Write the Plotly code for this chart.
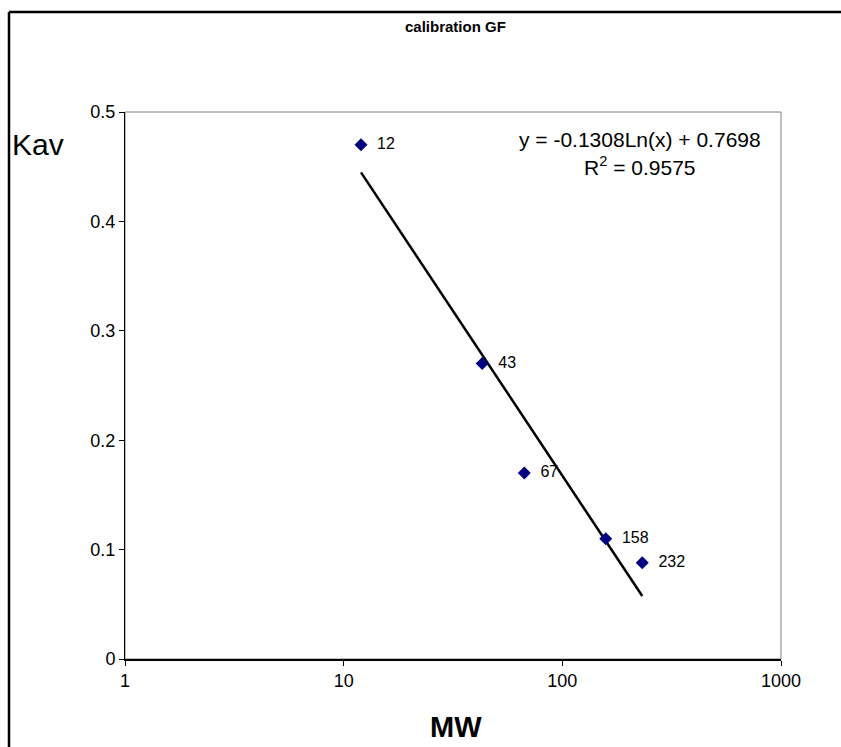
import numpy as np
import plotly.graph_objects as go

# Data
mw = [12, 43, 67, 158, 232]
kav = [0.47, 0.27, 0.17, 0.11, 0.088]
point_labels = ["12", "43", "67", "158", "232"]
x_ticks = [1, 10, 100, 1000]
y_ticks = [0, 0.1, 0.2, 0.3, 0.4, 0.5]
equation_text = "y = -0.1308Ln(x) + 0.7698"
r2_text = "R<sup>2</sup> = 0.9575"

# Logarithmic trendline from least squares fit
slope, intercept = np.polyfit(np.log(mw), kav, 1)
trend_x = np.geomspace(min(mw), max(mw), 60)
trend_y = slope * np.log(trend_x) + intercept

W, H = 841, 747
L, R, T, B = 125, 60, 112, 88
pw, ph = W - L - R, H - T - B
FONT = "Arial, Liberation Sans, sans-serif"

def px(xp):
    return (xp - L) / pw

def py(yp):
    return (H - B - yp) / ph

fig = go.Figure()
fig.add_trace(go.Scatter(x=trend_x, y=trend_y, mode="lines",
                         line=dict(color="black", width=2.5),
                         hoverinfo="skip", showlegend=False))
fig.add_trace(go.Scatter(x=mw, y=kav, mode="markers+text",
                         text=["\u00a0\u00a0" + t for t in point_labels],
                         textposition="middle right",
                         textfont=dict(family=FONT, size=16, color="black"),
                         marker=dict(symbol="diamond", size=10, color="#000080"),
                         showlegend=False))

shapes = [
    dict(type="rect", xref="paper", yref="paper", x0=0, y0=0, x1=1, y1=1,
         line=dict(color="#808080", width=1), layer="below"),
    dict(type="line", xref="paper", yref="paper", x0=px(9), y0=py(12), x1=px(845), y1=py(12),
         line=dict(color="black", width=2.5)),
    dict(type="line", xref="paper", yref="paper", x0=px(9), y0=py(12), x1=px(9), y1=py(750),
         line=dict(color="black", width=2.5)),
]

def ann(text, xp, yp, size):
    return dict(text=text, x=px(xp), y=py(yp), xref="paper", yref="paper",
                xanchor="center", yanchor="middle", showarrow=False,
                font=dict(family=FONT, size=size, color="black"))

annotations = [
    ann(equation_text, 640, 139, 21),
    ann(r2_text, 640, 166, 21),
    ann("Kav", 38, 144, 30),
    ann("<b>MW</b>", 456, 727, 29),
    ann("<b>calibration GF</b>", 456, 26, 15),
]

fig.update_layout(
    width=W, height=H,
    margin=dict(l=L, r=R, t=T, b=B),
    paper_bgcolor="white", plot_bgcolor="white",
    font=dict(family=FONT, size=18, color="black"),
    shapes=shapes, annotations=annotations,
    xaxis=dict(type="log", range=[0, 3], tickvals=x_ticks, ticktext=[str(v) for v in x_ticks],
               showgrid=False, zeroline=False, showline=True, linecolor="black", linewidth=1.5,
               ticks="outside", ticklen=5, tickcolor="black", tickfont=dict(size=18)),
    yaxis=dict(range=[0, 0.5], tickvals=y_ticks, ticktext=[f"{v:g}" for v in y_ticks],
               showgrid=False, zeroline=False, showline=True, linecolor="black", linewidth=1,
               ticks="outside", ticklen=5, tickcolor="black", tickfont=dict(size=18)),
)

fig.write_html("out.html", config={"displayModeBar": False},
               post_script="document.body.style.margin='0';document.body.style.overflow='hidden';")
